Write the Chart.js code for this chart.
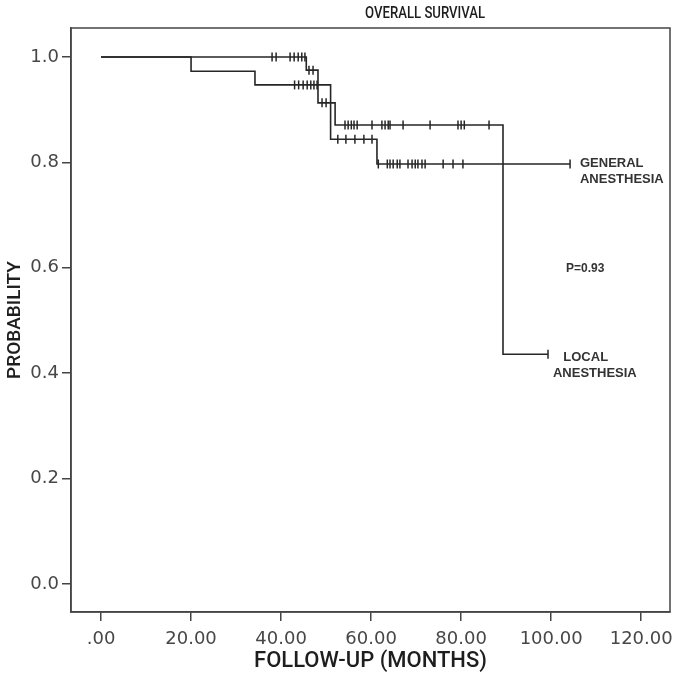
<!DOCTYPE html>
<html lang="en">
<head>
<meta charset="UTF-8" />
<title>Overall Survival</title>
<style>
  body { margin: 0; background: #fff; }
  #wrap { width: 678px; height: 681px; }
</style>
</head>
<body>
<div id="wrap"><canvas id="km"></canvas></div>
<script src="https://cdn.jsdelivr.net/npm/chart.js@4.4.1/dist/chart.umd.min.js"></script>
<script>
// axis ticks
const xTicks = [0, 20, 40, 60, 80, 100, 120];
const xTickLabels = [".00", "20.00", "40.00", "60.00", "80.00", "100.00", "120.00"];
const yTicks = [0, 0.2, 0.4, 0.6, 0.8, 1.0];
const yTickLabels = ["0.0", "0.2", "0.4", "0.6", "0.8", "1.0"];

// general anesthesia: step times (months) and survival after each step
const generalTimes = [0, 20.0, 34.2, 51.0, 61.3];
const generalSurv = [1.0, 0.973, 0.947, 0.844, 0.797];
const generalCensored = [43.0, 43.9, 44.9, 45.8, 46.6, 47.3, 48.0, 52.6, 54.4, 56.4, 58.4, 60.2,
  61.6, 63.6, 64.2, 64.9, 65.8, 66.4, 68.2, 69.1, 69.8, 70.4, 71.3, 72.0, 76.0, 78.2, 80.4, 104.2];

// local anesthesia
const localTimes = [0, 45.6, 48.2, 52.0, 89.3];
const localSurv = [1.0, 0.975, 0.913, 0.871, 0.436];
const localCensored = [38.0, 38.9, 42.0, 42.9, 43.8, 44.6, 45.3, 46.2, 47.1, 49.1, 50.0,
  54.2, 54.9, 55.6, 56.2, 56.9, 60.2, 62.4, 63.1, 63.8, 64.2, 67.1, 73.1, 79.3, 80.0, 80.7, 86.2, 99.3];

const pValue = "P=0.93";

const survAt = (times, surv, t) => {
  let s = surv[0];
  times.forEach((tt, i) => { if (tt <= t) s = surv[i]; });
  return s;
};
const stepData = (times, surv, cens) => {
  const pts = times.map((t, i) => ({ x: t, y: surv[i] }));
  pts.push({ x: Math.max(...cens), y: surv[surv.length - 1] });
  return pts;
};
const censorData = (times, surv, cens) => cens.map((t) => ({ x: t, y: survAt(times, surv, t) }));

const ink = "#262626";
const lineSet = (data) => ({
  type: "line", data, stepped: true, borderColor: ink, borderWidth: 1.6,
  pointRadius: 0, fill: false,
});
const censorSet = (data) => ({
  type: "scatter", data, showLine: false, pointStyle: "line", rotation: 90,
  pointRadius: 4.5, borderColor: ink, borderWidth: 1.5,
});

// frame, title and labels inside the plot
const extras = {
  id: "extras",
  afterDraw(chart) {
    const { ctx, chartArea: a, scales: { x, y } } = chart;
    ctx.save();
    ctx.strokeStyle = "#444";
    ctx.lineWidth = 1.5;
    ctx.strokeRect(a.left, a.top, a.right - a.left, a.bottom - a.top);

    // title is a bit condensed in the original
    ctx.fillStyle = "#1e1e1e";
    ctx.textBaseline = "middle";
    ctx.textAlign = "center";
    ctx.font = "500 16px Roboto";
    const tx = x.getPixelForValue(72);
    const w = ctx.measureText("OVERALL SURVIVAL").width;
    ctx.save();
    ctx.translate(tx, a.top - 14);
    ctx.scale(Math.min(1, 120 / w), 1);
    ctx.fillText("OVERALL SURVIVAL", 0, 0);
    ctx.restore();

    ctx.textAlign = "left";
    ctx.fillStyle = "#333";
    ctx.font = "bold 13px 'Liberation Sans'";
    const gy = y.getPixelForValue(generalSurv[generalSurv.length - 1]);
    ctx.fillText("GENERAL", x.getPixelForValue(106.4), gy - 1);
    ctx.fillText("ANESTHESIA", x.getPixelForValue(106.4), gy + 15);

    const ly = y.getPixelForValue(localSurv[localSurv.length - 1]);
    ctx.fillText("LOCAL", x.getPixelForValue(102.7), ly + 3);
    ctx.fillText("ANESTHESIA", x.getPixelForValue(100.4), ly + 19);

    ctx.font = "bold 12px 'Liberation Sans'";
    ctx.fillText(pValue, x.getPixelForValue(103.3), y.getPixelForValue(0.598));
    ctx.restore();
  },
};

new Chart(document.getElementById("km"), {
  data: {
    datasets: [
      lineSet(stepData(generalTimes, generalSurv, generalCensored)),
      censorSet(censorData(generalTimes, generalSurv, generalCensored)),
      lineSet(stepData(localTimes, localSurv, localCensored)),
      censorSet(censorData(localTimes, localSurv, localCensored)),
    ],
  },
  options: {
    responsive: true,
    maintainAspectRatio: false,
    animation: false,
    layout: { padding: { top: 28, right: 8, left: 0, bottom: 0 } },
    plugins: { legend: { display: false }, tooltip: { enabled: false } },
    scales: {
      x: {
        type: "linear",
        min: -6.67,
        max: 126.4,
        afterBuildTicks: (s) => { s.ticks = xTicks.map((v) => ({ value: v })); },
        afterFit: (s) => { s.height = 69; s.paddingLeft = 0; s.paddingRight = 0; },
        ticks: {
          callback: (v) => xTickLabels[xTicks.indexOf(v)],
          font: { family: "DejaVu Sans", size: 18 },
          color: "#474747",
          padding: 8,
          autoSkip: false,
          maxRotation: 0,
        },
        grid: { drawOnChartArea: false, tickLength: 9, color: "#444", lineWidth: 1.5 },
        border: { color: "#444", width: 1.5 },
        title: {
          display: true, text: "FOLLOW-UP (MONTHS)", color: "#1e1e1e",
          font: { family: "Roboto", size: 22, weight: "500" }, padding: { top: 0, bottom: 6 },
        },
      },
      y: {
        type: "linear",
        min: -0.053,
        max: 1.055,
        afterBuildTicks: (s) => { s.ticks = yTicks.map((v) => ({ value: v })); },
        afterFit: (s) => { s.width = 71; s.paddingTop = 0; s.paddingBottom = 0; },
        ticks: {
          callback: (v) => yTickLabels[yTicks.indexOf(v)],
          font: { family: "DejaVu Sans", size: 18 },
          color: "#474747",
          padding: 3,
        },
        grid: { drawOnChartArea: false, tickLength: 9, color: "#444", lineWidth: 1.5 },
        border: { color: "#444", width: 1.5 },
        title: {
          display: true, text: "PROBABILITY", color: "#1e1e1e",
          font: { family: "Roboto", size: 19, weight: "500" }, padding: { top: 4, bottom: 0 },
        },
      },
    },
  },
  plugins: [extras],
});
</script>
</body>
</html>
